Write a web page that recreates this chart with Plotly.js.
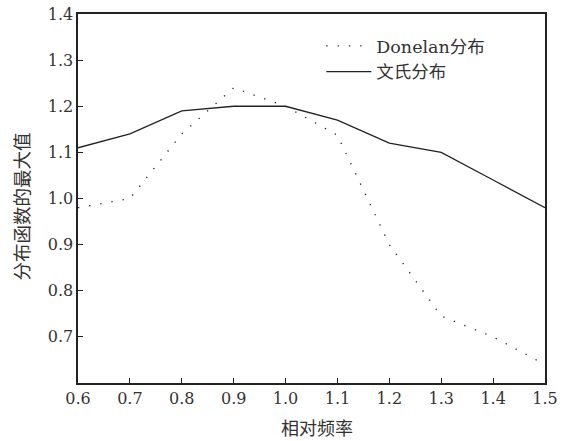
<!DOCTYPE html>
<html>
<head>
<meta charset="utf-8">
<script src="https://cdn.plot.ly/plotly-3.0.1.min.js"></script>
<style>html,body{margin:0;padding:0;background:#fff;}#chart{width:564px;height:441px;}</style>
</head>
<body>
<div id="chart"></div>
<script>
const relFreq = [0.6, 0.7, 0.8, 0.9, 1.0, 1.1, 1.2, 1.3, 1.4, 1.5];
const donelanMax = [0.98, 1.00, 1.14, 1.24, 1.20, 1.137, 0.90, 0.745, 0.70, 0.64];
const wenMax = [1.11, 1.14, 1.19, 1.20, 1.20, 1.17, 1.12, 1.10, 1.04, 0.98];
const xTicks = [0.6, 0.7, 0.8, 0.9, 1.0, 1.1, 1.2, 1.3, 1.4, 1.5];
const xTickText = ['0.6', '0.7', '0.8', '0.9', '1.0', '1.1', '1.2', '1.3', '1.4', '1.5'];
const yTicks = [0.7, 0.8, 0.9, 1.0, 1.1, 1.2, 1.3, 1.4];
const yTickText = ['0.7', '0.8', '0.9', '1.0', '1.1', '1.2', '1.3', '1.4'];
const seriesNames = ['Donelan分布', '文氏分布'];
const xTitle = '相对频率';
const yTitle = '分布函数的最大值';

const serif = 'DejaVu Serif, Noto Sans CJK SC';
const cjk = 'Noto Sans CJK SC, DejaVu Serif';

const traces = [
  {x: relFreq, y: donelanMax, name: seriesNames[0], mode: 'lines', type: 'scatter',
   line: {color: '#222', width: 1.3, dash: '1.3px,10px'}},
  {x: relFreq, y: wenMax, name: seriesNames[1], mode: 'lines', type: 'scatter',
   line: {color: '#222', width: 1.3}}
];

const layout = {
  width: 564, height: 441,
  margin: {l: 77.5, r: 18.5, t: 14, b: 58},
  paper_bgcolor: '#fff', plot_bgcolor: '#fff',
  font: {family: serif, size: 16, color: '#333'},
  showlegend: true,
  legend: {x: 0.521, y: 0.962, xanchor: 'left', yanchor: 'top', bgcolor: 'rgba(0,0,0,0)',
           font: {family: serif, size: 17.5, color: '#333'}, itemwidth: 45},
  xaxis: {range: [0.6, 1.5], tickvals: xTicks, ticktext: xTickText, ticks: 'inside', ticklen: 5,
          tickwidth: 1.2, tickcolor: '#222', showline: true, linecolor: '#222', linewidth: 1.6,
          mirror: true, showgrid: false, zeroline: false,
          tickfont: {family: serif, size: 16, color: '#333'}},
  yaxis: {range: [0.6, 1.4], tickvals: yTicks, ticktext: yTickText, ticks: 'inside', ticklen: 5,
          tickwidth: 1.2, tickcolor: '#222', showline: true, linecolor: '#222', linewidth: 1.6,
          mirror: true, showgrid: false, zeroline: false,
          tickfont: {family: serif, size: 16, color: '#333'}},
  annotations: [
    {text: xTitle, xref: 'paper', yref: 'paper', x: (317.5 - 77.5) / 468, y: -(427 - 383) / 369,
     xanchor: 'center', yanchor: 'middle', showarrow: false,
     font: {family: cjk, size: 18, color: '#333'}},
    {text: yTitle, xref: 'paper', yref: 'paper', x: (20 - 77.5) / 468, y: (383 - 207) / 369,
     xanchor: 'center', yanchor: 'middle', textangle: -90, showarrow: false,
     font: {family: cjk, size: 18.5, color: '#333'}}
  ]
};

Plotly.newPlot('chart', traces, layout, {displayModeBar: false, staticPlot: true});
</script>
</body>
</html>
